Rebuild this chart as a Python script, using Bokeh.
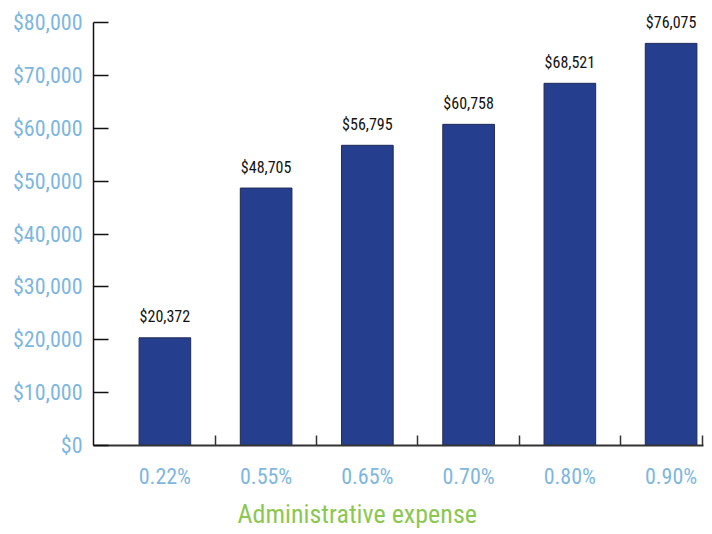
from bokeh.plotting import figure
from bokeh.models import Range1d, FixedTicker, NumeralTickFormatter, ColumnDataSource, Title
from bokeh.core.properties import value
from bokeh.embed import file_html
from bokeh.resources import INLINE

categories = ["0.22%", "0.55%", "0.65%", "0.70%", "0.80%", "0.90%"]
values = [20372, 48705, 56795, 60758, 68521, 76075]
value_labels = ["$20,372", "$48,705", "$56,795", "$60,758", "$68,521", "$76,075"]
y_ticks = [0, 10000, 20000, 30000, 40000, 50000, 60000, 70000, 80000]

FONT = "Roboto Condensed"
LIGHT_BLUE = "#7DB7DF"
GREEN = "#8CC751"
BAR = "#253F8E"

xs = list(range(len(categories)))
src = ColumnDataSource(dict(x=xs, top=values, label=value_labels))

p = figure(width=712, height=534, x_range=Range1d(-0.705, 5.32), y_range=Range1d(0, 84000),
           output_backend="svg", toolbar_location=None,
           min_border_left=93, min_border_right=9, min_border_top=1, min_border_bottom=89)
p.outline_line_color = None
p.grid.visible = False

p.vbar(x="x", top="top", width=0.51, source=src, fill_color=BAR, line_color="#1E2A55", line_width=1)
p.text(x="x", y="top", text="label", source=src, text_align="center", text_baseline="alphabetic",
       y_offset=-21, text_font=value(FONT), text_font_size="16px", text_color="#111111")

# x axis
xt = FixedTicker(ticks=xs, minor_ticks=[0.5, 1.5, 2.5, 3.5, 4.5, 5.31])
p.xaxis.ticker = xt
p.xaxis.major_label_overrides = {i: c for i, c in enumerate(categories)}
p.xaxis.major_tick_line_color = None
p.xaxis.minor_tick_in = 10
p.xaxis.minor_tick_out = 0
p.xaxis.minor_tick_line_color = "#333333"
p.xaxis.minor_tick_line_width = 1.5
p.xaxis.axis_line_color = "#333333"
p.xaxis.axis_line_width = 2
p.xaxis.major_label_text_font = FONT
p.xaxis.major_label_text_font_size = "22px"
p.xaxis.major_label_text_color = LIGHT_BLUE
p.xaxis.major_label_standoff = 12

# y axis
p.yaxis.ticker = FixedTicker(ticks=y_ticks)
p.yaxis.bounds = (0, 80000)
p.yaxis.formatter = NumeralTickFormatter(format="$0,0")
p.yaxis.major_tick_in = 15
p.yaxis.major_tick_out = 0
p.yaxis.major_tick_line_width = 1.5
p.yaxis.minor_tick_line_color = None
p.yaxis.axis_line_width = 1.5
p.yaxis.axis_line_color = "#111111"
p.yaxis.major_tick_line_color = "#111111"
p.yaxis.major_label_text_font = FONT
p.yaxis.major_label_text_font_size = "22px"
p.yaxis.major_label_text_color = LIGHT_BLUE
p.yaxis.major_label_standoff = 11

t = Title(text="Administrative expense", align="left", offset=144, text_font=FONT,
          text_font_size="26px", text_font_style="normal", text_color=GREEN, standoff=11)
p.add_layout(t, "below")

open("out.html", "w").write(file_html(p, INLINE))
